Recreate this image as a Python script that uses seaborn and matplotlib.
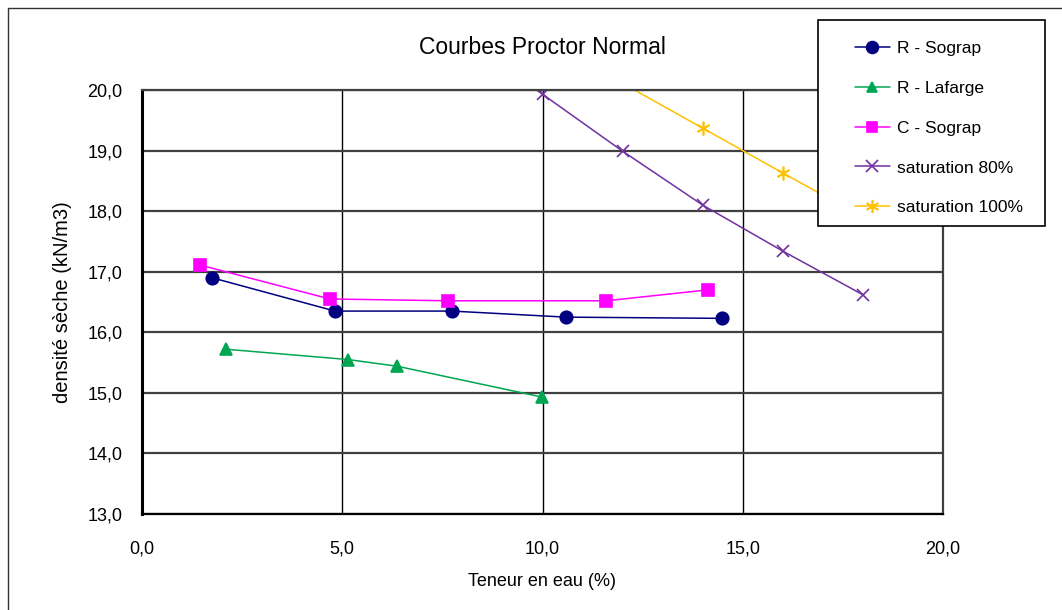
import numpy as np
import pandas as pd
import seaborn as sns
import matplotlib.pyplot as plt
from matplotlib.ticker import FuncFormatter, MultipleLocator
from matplotlib.lines import Line2D
from matplotlib.patches import Rectangle

sns.set_style('white')
plt.rcParams['font.family'] = ['Liberation Sans', 'DejaVu Sans']
plt.rcParams.update({
    'font.size': 12,
    'text.color': 'black',
    'axes.labelcolor': 'black',
    'xtick.color': 'black',
    'ytick.color': 'black',
})

# Data
sograp_r_x = [1.75, 4.82, 7.74, 10.59, 14.48]
sograp_r_y = [16.90, 16.35, 16.35, 16.25, 16.23]

lafarge_r_x = [2.10, 5.14, 6.37, 9.99]
lafarge_r_y = [15.72, 15.55, 15.44, 14.93]

sograp_c_x = [1.45, 4.69, 7.64, 11.59, 14.13]
sograp_c_y = [17.11, 16.55, 16.52, 16.52, 16.70]

sat80_x = [8, 10, 12, 14, 16, 18]
sat80_y = [20.87, 19.93, 18.99, 18.10, 17.34, 16.62]

sat100_x = [12, 14, 16, 18]
sat100_y = [20.11, 19.37, 18.63, 17.90]

series = [
    ('R - Sograp', sograp_r_x, sograp_r_y, '#000080', 'o', 9),
    ('R - Lafarge', lafarge_r_x, lafarge_r_y, '#00A651', '^', 8),
    ('C - Sograp', sograp_c_x, sograp_c_y, '#FF00FF', 's', 8),
    ('saturation 80%', sat80_x, sat80_y, '#7030A0', 'x', 9),
    ('saturation 100%', sat100_x, sat100_y, '#FFC000', (6, 2, 0), 10),
]

fig = plt.figure(figsize=(10.62, 6.10), dpi=100)
ax = fig.add_axes([142 / 1062, 1 - 514 / 610, (943 - 142) / 1062, (514 - 90) / 610])

for name, xs, ys, col, mk, ms in series:
    df = pd.DataFrame({'x': xs, 'y': ys})
    sns.lineplot(data=df, x='x', y='y', ax=ax, color=col, marker=mk,
                 markersize=ms, markeredgecolor=col, markerfacecolor=col,
                 markeredgewidth=1.2, linewidth=1.1, label=name,
                 sort=False, estimator=None)

ax.set_xlim(0, 20)
ax.set_ylim(13, 20)
ax.xaxis.set_major_locator(MultipleLocator(5))
ax.yaxis.set_major_locator(MultipleLocator(1))
fmt = FuncFormatter(lambda v, _: f"{v:.1f}".replace('.', ','))
ax.xaxis.set_major_formatter(fmt)
ax.yaxis.set_major_formatter(fmt)

ax.grid(True, axis='x', color='black', linewidth=1.0)
ax.grid(True, axis='y', color='#404040', linewidth=1.6)
ax.set_axisbelow(True)
for s in ['top', 'right']:
    ax.spines[s].set_color('#404040')
    ax.spines[s].set_linewidth(1.6)
ax.spines['left'].set_color('black')
ax.spines['left'].set_linewidth(2.2)
ax.spines['bottom'].set_color('black')
ax.spines['bottom'].set_linewidth(1.6)
ax.tick_params(axis='both', which='major', length=0, labelsize=13)
ax.tick_params(axis='x', pad=19)
ax.tick_params(axis='y', pad=14)

ax.set_xlabel('Teneur en eau (%)', fontsize=13, va='center')
ax.xaxis.set_label_coords(0.5, (514 - 581) / 424)
ax.set_ylabel('densité sèche (kN/m3)', fontsize=14.5, va='center')
ax.yaxis.set_label_coords((63 - 142) / 801, 0.5)
fig.text(542 / 1062, 1 - 48 / 610, 'Courbes Proctor Normal', fontsize=16.5,
         ha='center', va='center')

# legend
ax.legend_.remove()
handles = [Line2D([], [], color=col, marker=mk, markersize=ms * 0.95,
                  markeredgecolor=col, markerfacecolor=col,
                  markeredgewidth=1.2, linewidth=1.1)
           for name, xs, ys, col, mk, ms in series]
labels = [s[0] for s in series]
fig.legend(handles, labels, loc='upper left',
           bbox_to_anchor=(855 / 1062, 1 - 41 / 610), frameon=False,
           fontsize=12.5, handlelength=2.0, handletextpad=0.4,
           labelspacing=1.42, borderpad=0, borderaxespad=0)
fig.patches.append(Rectangle((818 / 1062, 1 - 226 / 610), (1045 - 818) / 1062,
                             (226 - 20) / 610, transform=fig.transFigure,
                             facecolor='white', edgecolor='black',
                             linewidth=1.2, zorder=3))
# outer chart border
fig.add_artist(Line2D([8 / 1062, 8 / 1062, 1.0], [0, 1 - 8 / 610, 1 - 8 / 610],
                      transform=fig.transFigure, color='#333333', linewidth=1))

fig.savefig('out.png', dpi=100, facecolor='white')
